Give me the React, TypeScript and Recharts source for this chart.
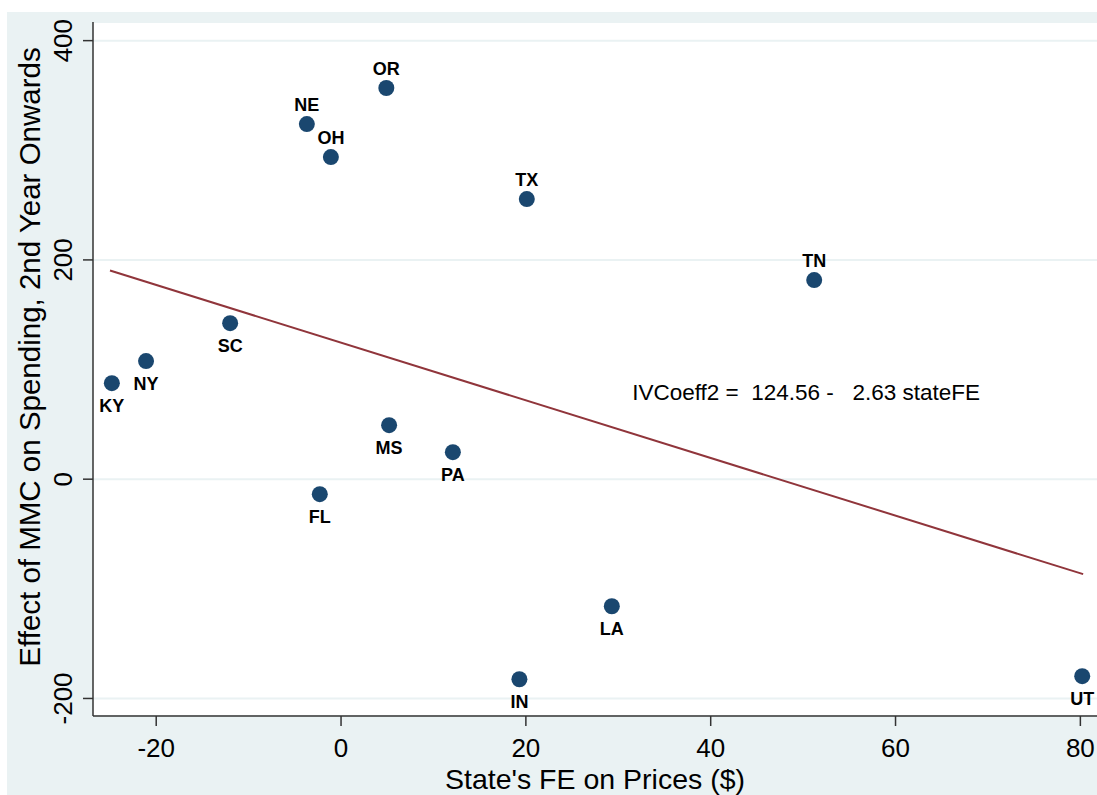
import React from "react";
import {
  ScatterChart,
  Scatter,
  XAxis,
  YAxis,
  CartesianGrid,
  ReferenceLine,
  ReferenceDot,
} from "recharts";

const states = ["KY", "NY", "SC", "NE", "OH", "OR", "MS", "FL", "PA", "TX", "IN", "LA", "TN", "UT"];
const stateFE = [-24.8, -21.1, -12.0, -3.7, -1.1, 4.9, 5.2, -2.3, 12.1, 20.1, 19.3, 29.3, 51.2, 80.2];
const ivCoeff = [87.6, 107.7, 142.3, 323.9, 293.8, 356.8, 49.3, -13.7, 24.6, 255.5, -182.5, -115.9, 181.6, -179.7];
const labelPos = ["below", "below", "below", "above", "above", "above", "below", "below", "below", "above", "below", "below", "above", "below"];

const xTicks = [-20, 0, 20, 40, 60, 80];
const yTicks = [-200, 0, 200, 400];
const fitIntercept = 124.56;
const fitSlope = -2.63;
const fitRange = [-25, 80.3];

const data = states.map((s, i) => ({ state: s, x: stateFE[i], y: ivCoeff[i], pos: labelPos[i] }));

const W = 1097;
const H = 795;
const FONT = "'Liberation Sans', Arial, Helvetica, sans-serif";
const NAVY = "#1a476f";
const MAROON = "#90353b";
const BG = "#eaf2f3";

const Dot = (props: any) => {
  const { cx, cy, payload } = props;
  const above = payload.pos === "above";
  return (
    <g>
      <circle cx={cx} cy={cy} r={8} fill={NAVY} />
      <text
        x={cx}
        y={above ? cy - 13 : cy + 29}
        textAnchor="middle"
        fontFamily={FONT}
        fontWeight="bold"
        fontSize={18}
        fill="#000"
      >
        {payload.state}
      </text>
    </g>
  );
};

const YTick = (props: any) => {
  const { y, payload } = props;
  const x = 72;
  return (
    <text
      x={x}
      y={y}
      transform={`rotate(-90, ${x}, ${y})`}
      textAnchor="middle"
      fontFamily={FONT}
      fontSize={26}
      fill="#000"
    >
      {payload.value}
    </text>
  );
};

const XTick = (props: any) => {
  const { x, payload } = props;
  return (
    <text x={x} y={757} textAnchor="middle" fontFamily={FONT} fontSize={26} fill="#000">
      {payload.value}
    </text>
  );
};

const Annotation = (props: any) => {
  const { cx, cy } = props;
  return (
    <text x={cx} y={cy + 8} textAnchor="start" fontFamily={FONT} fontSize={22.5} fill="#000" style={{ whiteSpace: "pre" }}>
      {"IVCoeff2 =  124.56 -   2.63 stateFE"}
    </text>
  );
};

export default function App() {
  return (
    <div style={{ position: "absolute", left: 0, top: 0, width: W, height: H, background: "#fff", overflow: "hidden" }}>
      <div style={{ position: "absolute", left: 7, top: 12, width: W - 7, height: H - 12, background: BG }} />
      <div style={{ position: "absolute", left: 0, top: 0 }}>
        <ScatterChart width={W} height={H} margin={{ top: 22, right: 0, bottom: 0, left: 0 }}>
          <CartesianGrid vertical={false} stroke={BG} strokeWidth={2} fill="#ffffff" fillOpacity={1} />
          <XAxis
            type="number"
            dataKey="x"
            domain={[-26.84, 81.8]}
            ticks={xTicks}
            allowDataOverflow
            height={79}
            tickSize={10}
            stroke="#333"
            strokeWidth={1.5}
            tick={<XTick />}
            label={{
              value: "State's FE on Prices ($)",
              position: "insideBottom",
              offset: 6,
              style: { fontFamily: FONT, fontSize: 28.5, fill: "#000" },
            }}
          />
          <YAxis
            type="number"
            dataKey="y"
            domain={[-216, 417]}
            ticks={yTicks}
            allowDataOverflow
            width={93}
            tickSize={10}
            stroke="#333"
            strokeWidth={1.5}
            tick={<YTick />}
          />
          <ReferenceLine
            segment={[
              { x: fitRange[0], y: fitIntercept + fitSlope * fitRange[0] },
              { x: fitRange[1], y: fitIntercept + fitSlope * fitRange[1] },
            ]}
            stroke={MAROON}
            strokeWidth={2}
          />
          <Scatter data={data} shape={<Dot />} isAnimationActive={false} />
          <ReferenceDot x={31.5} y={79.5} r={0} shape={<Annotation />} />
        </ScatterChart>
      </div>
      <svg style={{ position: "absolute", left: 0, top: 0 }} width={W} height={H} pointerEvents="none">
        <text
          x={40}
          y={357}
          transform="rotate(-90, 40, 357)"
          textAnchor="middle"
          fontFamily={FONT}
          fontSize={29.5}
          fill="#000"
        >
          Effect of MMC on Spending, 2nd Year Onwards
        </text>
      </svg>
    </div>
  );
}
